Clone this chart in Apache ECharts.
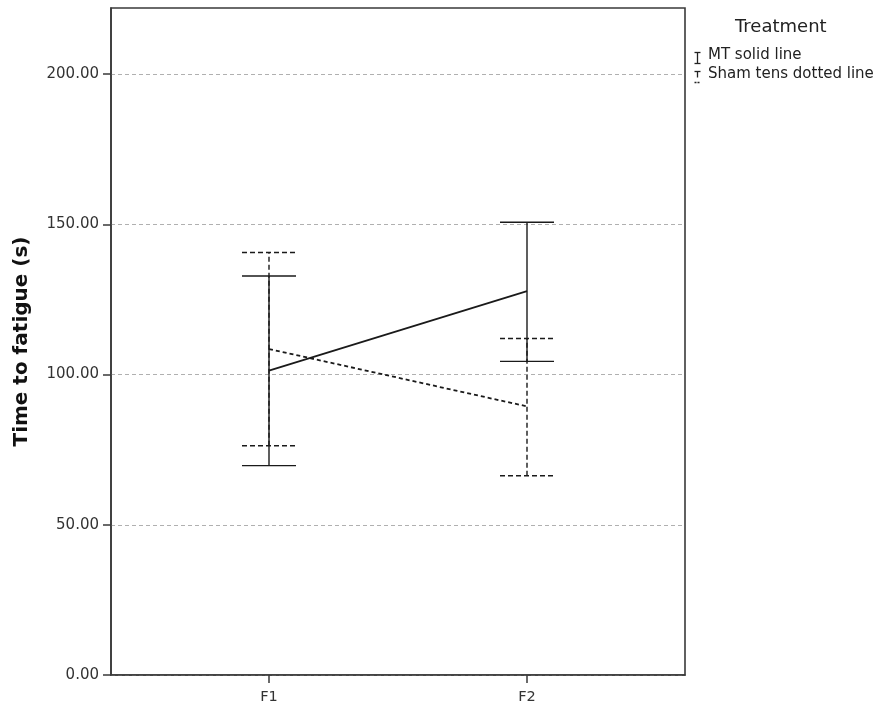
<!DOCTYPE html>
<html lang="en">
<head>
	<meta charset="UTF-8">
	<title>time_to_fatigue</title>
	<script type="text/javascript" src="https://cdn.jsdelivr.net/npm/echarts@6/dist/echarts.min.js"></script>
</head>
<body style="margin:0;background:#fff;">
<div id="chart" style="width: 881px;height: 709px"></div>

<script type="text/javascript">
    // 数据
    var categories = ['F1', 'F2'];
    var yTicks = [0, 50, 100, 150, 200];

    var mtMean = [101.3, 127.8];
    var mtLow = [69.7, 104.4];
    var mtHigh = [132.8, 150.7];

    var shamMean = [108.5, 89.4];
    var shamLow = [76.3, 66.3];
    var shamHigh = [140.6, 112.0];

    var toPoints = function(values){
        var res = [];
        for (var i = 0; i < values.length; i++) {
            res.push([i + 1, values[i]]);
        }
        return res;
    };

    var toBars = function(low, high){
        var res = [];
        for (var i = 0; i < low.length; i++) {
            res.push([i + 1, low[i], high[i]]);
        }
        return res;
    };

    // 误差线（竖线 + 上下横帽）
    var errorBar = function(dash){
        return function(params, api){
            var x = api.value(0);
            var lo = api.coord([x, api.value(1)]);
            var hi = api.coord([x, api.value(2)]);
            var cap = 27;
            var style = {stroke: '#1a1a1a', lineWidth: 1.4, lineDash: dash, fill: null};
            return {
                type: 'group',
                children: [
                    {type: 'line', shape: {x1: lo[0], y1: lo[1], x2: hi[0], y2: hi[1]}, style: style},
                    {type: 'line', shape: {x1: lo[0] - cap, y1: lo[1], x2: lo[0] + cap, y2: lo[1]}, style: style},
                    {type: 'line', shape: {x1: hi[0] - cap, y1: hi[1], x2: hi[0] + cap, y2: hi[1]}, style: style}
                ]
            };
        };
    };

    var chart = echarts.init(document.getElementById('chart'));

    var option = {
        animation: false,
        grid: {
            left: 111,
            right: 196,
            top: 8,
            bottom: 34,
            show: true,
            borderColor: '#3a3a3a',
            borderWidth: 1.6,
            backgroundColor: 'transparent'
        },
        xAxis: {
            type: 'value',
            min: 0.3876,
            max: 2.6124,
            axisLine: {show: true, lineStyle: {color: '#3a3a3a', width: 1.6}},
            axisTick: {show: true, length: 8, customValues: [1, 2], lineStyle: {color: '#3a3a3a', width: 1.5}},
            axisLabel: {
                customValues: [1, 2],
                margin: 15,
                color: '#333',
                fontSize: 14.5,
                fontFamily: 'DejaVu Sans',
                formatter: function(v){ return categories[Math.round(v) - 1] || ''; }
            },
            splitLine: {show: false}
        },
        yAxis: {
            type: 'value',
            min: 0,
            max: 222,
            interval: 50,
            name: 'Time to fatigue (s)',
            nameLocation: 'middle',
            nameGap: 79,
            nameTextStyle: {fontSize: 20, fontWeight: 'bold', color: '#111', fontFamily: 'DejaVu Sans'},
            axisLine: {show: true, lineStyle: {color: '#3a3a3a', width: 1.6}},
            axisTick: {show: true, length: 8, customValues: yTicks, lineStyle: {color: '#3a3a3a', width: 1.5}},
            axisLabel: {
                customValues: yTicks,
                margin: 12,
                color: '#333',
                fontSize: 15,
                fontFamily: 'DejaVu Sans',
                formatter: function(v){ return v.toFixed(2); }
            },
            splitLine: {show: true, lineStyle: {color: '#b0b0b0', type: [4, 3], width: 1}}
        },
        graphic: [
            {type: 'text', left: 735, top: 18, style: {text: 'Treatment', fontSize: 18, fill: '#222', fontFamily: 'DejaVu Sans'}},
            {type: 'text', left: 708, top: 48, style: {text: 'MT solid line', fontSize: 15, fill: '#222', fontFamily: 'DejaVu Sans'}},
            {type: 'text', left: 708, top: 67, style: {text: 'Sham tens dotted line', fontSize: 15, fill: '#222', fontFamily: 'DejaVu Sans'}},
            // 图例小图标
            {type: 'group', left: 692, top: 50, children: [
                {type: 'line', shape: {x1: 3, y1: 0, x2: 3, y2: 11}, style: {stroke: '#222', lineWidth: 1.3}},
                {type: 'line', shape: {x1: 0, y1: 0, x2: 6, y2: 0}, style: {stroke: '#222', lineWidth: 1.3}},
                {type: 'line', shape: {x1: 0, y1: 11, x2: 6, y2: 11}, style: {stroke: '#222', lineWidth: 1.3}}
            ]},
            {type: 'group', left: 692, top: 69, children: [
                {type: 'line', shape: {x1: 3, y1: 0, x2: 3, y2: 6}, style: {stroke: '#222', lineWidth: 1.3}},
                {type: 'line', shape: {x1: 0, y1: 0, x2: 6, y2: 0}, style: {stroke: '#222', lineWidth: 1.3}},
                {type: 'line', shape: {x1: 0, y1: 11, x2: 6, y2: 11}, style: {stroke: '#222', lineWidth: 1.3, lineDash: [2, 1]}}
            ]}
        ],
        series: [
            {
                name: 'MT solid line',
                type: 'line',
                data: toPoints(mtMean),
                symbol: 'none',
                lineStyle: {color: '#1a1a1a', width: 1.8, type: 'solid'},
                z: 3
            },
            {
                name: 'Sham tens dotted line',
                type: 'line',
                data: toPoints(shamMean),
                symbol: 'none',
                lineStyle: {color: '#1a1a1a', width: 1.8, type: [4, 3]},
                z: 3
            },
            {
                name: 'MT error',
                type: 'custom',
                renderItem: errorBar(null),
                data: toBars(mtLow, mtHigh),
                encode: {x: 0, y: [1, 2]},
                z: 2
            },
            {
                name: 'Sham error',
                type: 'custom',
                renderItem: errorBar([5, 3]),
                data: toBars(shamLow, shamHigh),
                encode: {x: 0, y: [1, 2]},
                z: 2
            }
        ]
    };

    chart.setOption(option);
</script>
</body>
</html>
